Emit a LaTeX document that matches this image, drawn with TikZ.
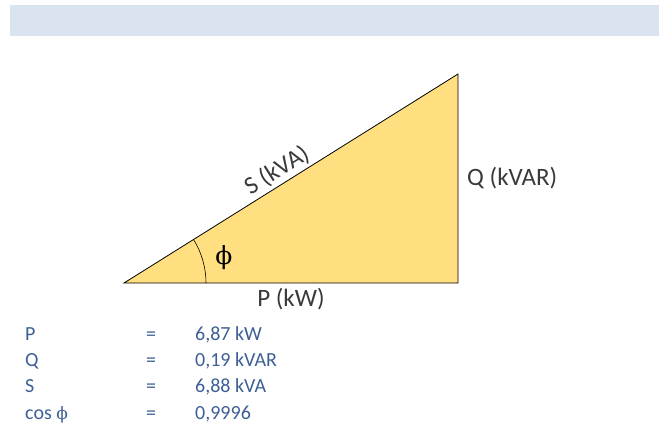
\documentclass[tikz,border=0pt]{standalone}
\usepackage{fontspec}
\setmainfont{Carlito}
\newfontfamily\phifont{DejaVu Serif}
\usepackage{tikz}
\usetikzlibrary{positioning,calc}
\definecolor{pqhead}{HTML}{DAE3F0}
\definecolor{pqfill}{HTML}{FFDF80}
\definecolor{pqblue}{HTML}{3D5F95}
\definecolor{pqgray}{HTML}{3A3A3A}
\tikzset{
  side/.style={font=\fontsize{25}{28}\selectfont, text=pqgray, inner sep=2pt},
  row/.style={font=\fontsize{20}{22}\selectfont, text=pqblue, anchor=base west, inner sep=0pt},
  edge/.style={draw=black, line width=0.8pt, line join=miter},
}

\begin{document}
\begin{tikzpicture}[x=1pt, y=-1pt]
\useasboundingbox (0,0) rectangle (659,425);
% ---------- header band ----------
\fill[pqhead] (10,5) rectangle (659,36);

% ---------- power triangle ----------
\coordinate (O) at (124,283);
\coordinate (B) at (458,283);
\coordinate (C) at (458,74);
\filldraw[fill=pqfill, edge] (O) -- (B) -- (C) -- cycle;
% angle arc
\coordinate (a1) at ($(O)!82pt!(B)$);
\draw[line width=0.6pt] (a1) arc[start angle=0, end angle=-32.04, radius=82];
\node[font=\phifont\fontsize{25}{28}\selectfont] (phi) at (224,258) {ϕ};

% side labels
\path (O) -- (C) node[side, sloped, above, pos=0.48, inner sep=3pt] (Slab) {S (kVA)};
\path (B) -- (C) node[side, midway, right=7pt] (Qlab) {Q (kVAR)};
\path (O) -- (B) node[side, midway, below=3pt] (Plab) {P (kW)};

% ---------- values ----------
\foreach \i/\sym/\val in {0/P/{6,87 kW}, 1/Q/{0,19 kVAR}, 2/S/{6,88 kVA}, 3/{cos {\phifont\fontsize{17}{20}\selectfont ϕ}}/{0,9996}}{
  \pgfmathsetmacro\yy{340+\i*26.4}
  \node[row] (sym\i) at (25,\yy) {\sym};
  \node[row] (eq\i) at (146,\yy) {=};
  \node[row] (val\i) at (195,\yy) {\val};
}
\end{tikzpicture}
\end{document}
